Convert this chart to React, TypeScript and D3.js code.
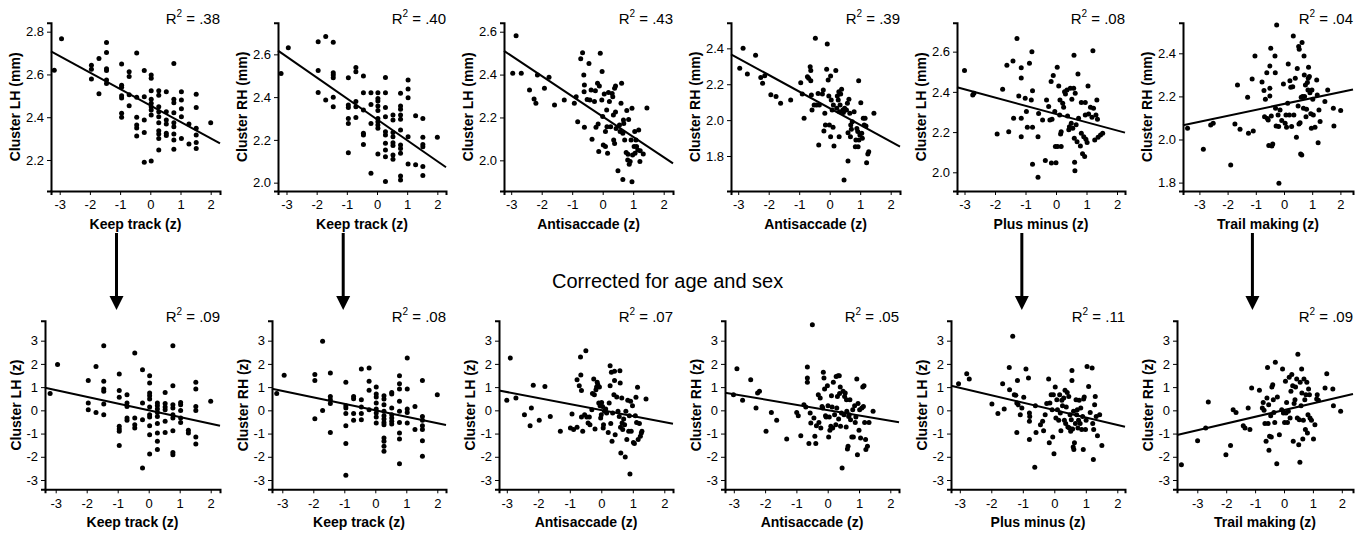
import React, { useRef, useEffect } from 'react';
import { select, scaleLinear, axisBottom, axisLeft, format } from 'd3';

// ---- data (x = task z-score, y = cluster value) ----

const keepTrackLH = [
  [-3.18,2.62],[-2.94,2.767],[-1.95,2.643],[-1.95,2.624],[-1.95,2.579],[-1.7,2.675],[-1.7,2.51],
  [-1.45,2.749],[-1.45,2.703],[-1.45,2.627],[-1.45,2.618],[-1.45,2.574],[-1.45,2.558],
  [-0.95,2.649],[-0.95,2.549],[-0.95,2.54],[-0.95,2.5],[-0.95,2.49],[-0.95,2.418],[-0.95,2.4],
  [-0.7,2.613],[-0.7,2.59],[-0.7,2.505],[-0.7,2.454],
  [-0.45,2.7],[-0.45,2.493],[-0.45,2.4],[-0.45,2.364],[-0.45,2.35],[-0.45,2.312],
  [-0.2,2.618],[-0.2,2.496],[-0.2,2.387],[-0.2,2.328],[-0.2,2.189],
  [0.03,2.597],[0.03,2.582],[0.03,2.524],[0.03,2.484],[0.03,2.465],[0.03,2.449],[0.03,2.434],[0.03,2.41],[0.03,2.195],
  [0.28,2.524],[0.28,2.503],[0.28,2.449],[0.28,2.426],[0.28,2.402],[0.28,2.374],[0.28,2.337],[0.28,2.321],[0.28,2.301],[0.28,2.247],
  [0.53,2.519],[0.53,2.426],[0.53,2.387],[0.53,2.368],[0.53,2.325],[0.53,2.315],
  [0.78,2.651],[0.78,2.484],[0.78,2.468],[0.78,2.421],[0.78,2.374],[0.78,2.356],[0.78,2.321],[0.78,2.293],[0.78,2.25],
  [1.03,2.519],[1.03,2.48],[1.03,2.44],[1.03,2.402],[1.03,2.3],
  [1.28,2.368],[1.28,2.275],
  [1.52,2.507],[1.52,2.446],[1.52,2.348],[1.52,2.317],[1.52,2.282],[1.52,2.254],
  [2.0,2.374]
];

const keepTrackRH = [
  [-3.18,2.511],[-2.94,2.631],[-1.95,2.659],[-1.95,2.524],[-1.95,2.422],[-1.7,2.683],[-1.7,2.386],
  [-1.45,2.656],[-1.45,2.514],[-1.45,2.503],[-1.45,2.491],[-1.45,2.399],[-1.45,2.355],
  [-0.95,2.491],[-0.95,2.363],[-0.95,2.352],[-0.95,2.3],[-0.95,2.277],[-0.95,2.14],
  [-0.7,2.538],[-0.7,2.519],[-0.7,2.379],[-0.7,2.355],[-0.7,2.305],
  [-0.45,2.499],[-0.45,2.421],[-0.45,2.34],[-0.45,2.231],[-0.45,2.223],[-0.45,2.179],
  [-0.2,2.421],[-0.2,2.366],[-0.2,2.277],[-0.2,2.044],
  [0.03,2.421],[0.03,2.394],[0.03,2.382],[0.03,2.358],[0.03,2.337],[0.03,2.3],[0.03,2.285],[0.03,2.27],[0.03,2.254],[0.03,2.134],
  [0.28,2.492],[0.28,2.421],[0.28,2.352],[0.28,2.308],[0.28,2.238],[0.28,2.223],[0.28,2.184],[0.28,2.153],[0.28,2.121],[0.28,2.005],
  [0.53,2.316],[0.53,2.293],[0.53,2.234],[0.53,2.215],[0.53,2.187],[0.53,2.174],[0.53,2.129],[0.53,2.109],
  [0.78,2.418],[0.78,2.358],[0.78,2.343],[0.78,2.316],[0.78,2.296],[0.78,2.246],[0.78,2.176],[0.78,2.16],[0.78,2.137],[0.78,2.031],[0.78,2.012],
  [1.03,2.48],[1.03,2.438],[1.03,2.397],[1.03,2.215],[1.03,2.087],
  [1.28,2.313],[1.28,2.084],
  [1.52,2.3],[1.52,2.212],[1.52,2.179],[1.52,2.168],[1.52,2.075],[1.52,2.033],
  [2.0,2.212]
];

const antisaccadeLH = [
  [-2.84,2.581],[-2.95,2.406],[-2.67,2.406],[-2.4,2.328],[-2.25,2.286],[-2.19,2.266],[-2.14,2.398],[-1.91,2.336],
  [-1.76,2.387],[-1.58,2.258],[-1.26,2.281],[-0.93,2.266],[-0.87,2.297],[-0.82,2.18],[-0.72,2.474],[-0.66,2.502],
  [-0.62,2.398],[-0.6,2.351],[-0.61,2.32],[-0.6,2.154],[-0.51,2.284],[-0.45,2.452],[-0.42,2.281],[-0.38,2.328],
  [-0.35,2.098],[-0.27,2.274],[-0.24,2.325],[-0.22,2.154],[-0.17,2.359],[-0.15,2.17],[-0.13,2.041],[-0.11,2.347],
  [-0.08,2.499],[-0.03,2.281],[-0.02,2.414],[0.0,2.204],[0.05,2.309],[0.02,2.072],[0.09,2.064],[0.09,2.134],
  [0.13,2.235],[0.14,2.157],[0.16,2.033],[0.19,2.316],[0.22,2.274],[0.26,2.157],[0.31,2.312],[0.33,2.297],
  [0.35,2.212],[0.36,2.095],[0.39,2.079],[0.39,2.336],[0.42,2.347],[0.42,2.226],[0.44,2.149],[0.5,1.952],
  [0.55,2.165],[0.57,2.134],[0.6,2.266],[0.62,2.359],[0.66,1.911],[0.66,2.126],[0.68,2.188],[0.69,2.172],
  [0.72,2.095],[0.77,2.036],[0.79,2.232],[0.82,2.002],[0.83,2.028],[0.85,2.191],[0.87,1.982],[0.9,1.995],
  [0.93,2.095],[0.96,2.243],[0.96,1.9],[0.98,2.025],[1.03,2.064],[1.05,2.134],[1.06,2.033],[1.09,2.095],
  [1.11,2.064],[1.15,2.048],[1.18,2.141],[1.22,1.995],[1.23,2.045],[1.33,2.03],[1.45,2.244]
];

const antisaccadeRH = [
  [-2.84,2.4],[-2.95,2.289],[-2.7,2.257],[-2.43,2.361],[-2.26,2.237],[-2.2,2.205],[-2.13,2.248],[-1.93,2.141],
  [-1.76,2.131],[-1.61,2.094],[-1.28,2.112],[-0.95,2.209],[-0.9,2.146],[-0.84,2.01],[-0.73,2.242],[-0.69,2.233],
  [-0.64,2.298],[-0.62,2.276],[-0.62,2.22],[-0.6,2.14],[-0.58,2.056],[-0.51,2.084],[-0.47,2.456],[-0.43,2.084],
  [-0.38,2.149],[-0.36,1.861],[-0.34,2.084],[-0.24,2.146],[-0.21,2.168],[-0.19,1.939],[-0.16,2.038],[-0.14,1.973],
  [-0.1,2.283],[-0.08,2.424],[-0.05,2.224],[-0.03,2.135],[-0.01,1.973],[0.03,1.908],[0.03,2.246],[0.05,2.112],
  [0.08,2.056],[0.11,1.96],[0.12,2.084],[0.14,1.856],[0.2,2.276],[0.23,2.066],[0.25,2.135],[0.28,2.112],
  [0.3,2.158],[0.31,1.908],[0.32,2.047],[0.34,2.084],[0.36,2.146],[0.39,2.172],[0.43,2.056],[0.45,2.042],
  [0.47,1.666],[0.49,2.066],[0.55,2.056],[0.58,2.094],[0.6,1.93],[0.6,1.772],[0.63,2.116],[0.66,2.038],
  [0.68,1.908],[0.69,1.973],[0.71,1.949],[0.74,1.991],[0.8,2.047],[0.84,1.852],[0.86,1.889],[0.89,1.954],
  [0.92,1.936],[0.93,1.852],[0.95,2.22],[0.96,1.889],[0.99,1.917],[1.02,2.097],[1.05,1.927],[1.07,1.899],
  [1.1,2.01],[1.13,1.973],[1.16,2.01],[1.19,1.967],[1.21,1.763],[1.25,1.811],[1.28,1.824],[1.45,2.038]
];

const plusMinusLH = [
  [-3.0,2.506],[-2.73,2.385],[-2.69,2.393],[-1.93,2.191],[-1.75,2.413],[-1.61,2.532],[-1.55,2.202],[-1.41,2.554],
  [-1.39,2.269],[-1.28,2.666],[-1.22,2.38],[-1.14,2.469],[-1.14,2.52],[-1.14,2.269],[-1.14,2.177],[-1.01,2.368],
  [-0.97,2.302],[-0.94,2.224],[-0.87,2.542],[-0.81,2.36],[-0.77,2.406],[-0.79,2.6],[-0.77,2.224],[-0.77,2.04],
  [-0.59,2.177],[-0.59,1.975],[-0.57,2.293],[-0.44,2.26],[-0.35,2.059],[-0.31,2.36],[-0.24,2.327],[-0.2,2.26],
  [-0.16,2.451],[-0.15,2.046],[-0.13,2.264],[-0.09,2.482],[-0.04,2.302],[-0.02,2.128],[0.0,2.048],[0.04,2.522],
  [0.05,2.128],[0.09,2.429],[0.12,2.285],[0.13,2.36],[0.15,2.191],[0.17,2.128],[0.17,2.202],[0.22,2.343],
  [0.25,2.323],[0.28,2.401],[0.31,2.389],[0.36,2.409],[0.38,2.28],[0.42,2.211],[0.44,2.227],[0.47,2.418],
  [0.5,2.244],[0.52,2.363],[0.55,2.219],[0.58,2.418],[0.59,2.582],[0.6,2.169],[0.61,2.05],[0.62,2.008],
  [0.63,2.393],[0.66,2.236],[0.69,2.152],[0.72,2.489],[0.74,2.269],[0.8,2.131],[0.83,2.347],[0.83,2.194],
  [0.87,2.092],[0.91,2.177],[0.94,2.079],[0.96,2.347],[0.96,2.285],[0.98,2.164],[1.02,2.148],[1.05,2.429],
  [1.07,2.29],[1.13,2.323],[1.18,2.274],[1.21,2.605],[1.23,2.318],[1.27,2.161],[1.31,2.285],[1.34,2.36],
  [1.36,2.264],[1.38,2.174],[1.46,2.186],[1.53,2.194]
];

const trailMakingRH = [
  [-3.42,2.052],[-2.86,1.955],[-2.6,2.067],[-2.51,2.075],[-1.89,1.882],[-1.74,2.072],[-1.65,2.253],[-1.56,2.047],
  [-1.29,2.196],[-1.26,2.029],[-1.13,2.281],[-1.09,2.04],[-1.03,2.388],[-0.78,2.267],[-0.71,2.227],[-0.69,2.106],
  [-0.66,2.187],[-0.61,2.31],[-0.59,2.098],[-0.56,2.091],[-0.54,1.972],[-0.5,2.341],[-0.5,2.238],[-0.5,2.202],
  [-0.47,2.423],[-0.45,2.109],[-0.43,1.97],[-0.4,1.979],[-0.32,2.388],[-0.31,2.31],[-0.3,2.145],[-0.28,2.063],
  [-0.26,2.531],[-0.21,2.114],[-0.19,2.06],[-0.18,1.797],[-0.14,2.137],[-0.08,2.088],[-0.02,2.258],[0.04,2.075],
  [0.07,2.114],[0.09,2.057],[0.13,2.168],[0.15,2.35],[0.19,2.114],[0.21,2.273],[0.24,2.242],[0.27,2.06],
  [0.31,2.245],[0.33,2.48],[0.35,2.114],[0.4,2.284],[0.44,2.01],[0.47,2.33],[0.5,2.156],[0.52,2.431],
  [0.53,2.072],[0.54,2.419],[0.57,2.078],[0.59,1.933],[0.61,2.196],[0.63,1.928],[0.64,2.45],[0.66,2.199],
  [0.69,2.145],[0.71,2.388],[0.72,2.299],[0.73,2.199],[0.76,2.253],[0.78,2.106],[0.8,2.14],[0.83,2.264],
  [0.85,2.23],[0.86,2.284],[0.87,2.335],[0.9,2.292],[0.92,2.217],[0.95,2.119],[0.97,2.052],[0.99,2.23],
  [1.02,2.187],[1.04,2.114],[1.1,2.057],[1.16,2.276],[1.18,2.207],[1.21,1.985],[1.24,2.137],[1.28,2.083],
  [1.45,2.176],[1.55,2.23],[1.75,2.145],[1.77,2.063],[2.01,2.134]
];

const keepTrackLHz = [
  [-3.18,0.72],[-2.94,1.97],[-1.95,1.28],[-1.95,0.32],[-1.95,0.03],[-1.7,1.89],[-1.7,-0.09],
  [-1.45,2.78],[-1.45,1.25],[-1.45,0.92],[-1.45,0.82],[-1.45,0.27],[-1.45,-0.19],
  [-0.95,1.56],[-0.95,0.85],[-0.95,0.56],[-0.95,-0.69],[-0.95,-0.8],[-0.95,-0.9],[-0.95,-1.51],
  [-0.7,0.67],[-0.7,0.32],[-0.7,0.17],[-0.7,-0.33],[-0.7,-0.43],
  [-0.45,2.47],[-0.45,-0.33],[-0.45,-0.62],[-0.45,-0.76],
  [-0.2,1.75],[-0.2,0.32],[-0.2,-0.4],[-0.2,-2.48],
  [0.03,1.49],[0.03,1.18],[0.03,0.75],[0.03,0.63],[0.03,0.49],[0.03,0.14],[0.03,-0.19],[0.03,-0.29],[0.03,-0.66],[0.03,-1.05],[0.03,-1.88],
  [0.28,0.32],[0.28,0.2],[0.28,0.06],[0.28,-0.09],[0.28,-0.26],[0.28,-0.57],[0.28,-0.98],[0.28,-1.33],[0.28,-1.69],
  [0.53,0.77],[0.53,0.29],[0.53,0.14],[0.53,0.03],[0.53,-0.47],[0.53,-0.95],
  [0.78,2.78],[0.78,1.06],[0.78,0.24],[0.78,0.1],[0.78,-0.19],[0.78,-0.33],[0.78,-0.88],[0.78,-1.81],[0.78,-1.91],
  [1.03,0.34],[1.03,0.24],[1.03,-0.01],[1.03,-0.33],[1.03,-0.52],
  [1.28,-0.86],[1.28,-0.98],
  [1.52,1.21],[1.52,0.92],[1.52,0.17],[1.52,-0.01],[1.52,-1.15],[1.52,-1.45],
  [2.0,0.39]
];

const keepTrackRHz = [
  [-3.18,0.72],[-2.94,1.51],[-1.95,1.54],[-1.95,1.28],[-1.95,-0.36],[-1.7,2.97],[-1.7,-0.01],
  [-1.45,1.61],[-1.45,0.6],[-1.45,0.46],[-1.45,0.29],[-1.45,-0.95],
  [-0.95,1.21],[-0.95,0.2],[-0.95,0.1],[-0.95,-0.14],[-0.95,-0.66],[-0.95,-1.43],[-0.95,-2.8],
  [-0.7,0.6],[-0.7,0.5],[-0.7,-0.14],[-0.7,-0.43],
  [-0.45,1.78],[-0.45,0.46],[-0.45,0.14],[-0.45,-0.14],[-0.45,-0.4],
  [-0.2,1.82],[-0.2,1.25],[-0.2,0.86],[-0.2,0.03],
  [0.03,1.0],[0.03,0.7],[0.03,0.57],[0.03,0.32],[0.03,0.06],[0.03,-0.11],[0.03,-0.29],[0.03,-0.55],
  [0.28,0.63],[0.28,0.49],[0.28,0.24],[0.28,-0.04],[0.28,-0.23],[0.28,-0.37],[0.28,-0.52],[0.28,-0.62],[0.28,-1.19],[0.28,-1.33],[0.28,-1.55],[0.28,-1.76],
  [0.53,0.77],[0.53,0.7],[0.53,0.1],[0.53,-0.19],[0.53,-0.33],[0.53,-0.47],[0.53,-0.59],
  [0.78,1.49],[0.78,1.15],[0.78,0.92],[0.78,0.39],[0.78,-0.04],[0.78,-0.52],[0.78,-0.98],[0.78,-1.23],[0.78,-2.3],
  [1.03,2.25],[1.03,0.92],[1.03,0.06],[1.03,-0.09],[1.03,-0.55],
  [1.28,0.17],[1.28,-0.83],
  [1.52,1.28],[1.52,-0.26],[1.52,-0.43],[1.52,-0.66],[1.52,-0.83],[1.52,-1.31],[1.52,-1.98],
  [2.0,0.67]
];

const antisaccadeLHz = [
  [-3.0,0.43],[-2.89,2.25],[-2.71,0.53],[-2.44,-0.19],[-2.26,-0.66],[-2.22,0.1],[-2.16,1.08],[-1.97,-0.43],
  [-1.79,1.03],[-1.62,-0.26],[-1.3,-0.9],[-0.98,-0.76],[-0.93,-0.16],[-0.88,-0.83],[-0.77,1.32],[-0.77,-0.73],
  [-0.7,1.06],[-0.66,2.3],[-0.65,1.52],[-0.63,0.85],[-0.63,-0.29],[-0.59,-0.9],[-0.53,-0.19],[-0.49,2.57],
  [-0.46,-0.29],[-0.42,-0.55],[-0.38,-0.29],[-0.36,-0.62],[-0.3,0.03],[-0.28,0.72],[-0.24,1.35],[-0.22,0.67],
  [-0.2,-0.8],[-0.17,0.89],[-0.15,1.0],[-0.13,1.21],[-0.11,1.1],[-0.08,0.32],[-0.06,1.0],[-0.04,0.2],
  [-0.02,-0.33],[0.0,-0.19],[0.01,0.34],[0.04,0.17],[0.06,-0.76],[0.07,-0.62],[0.1,-0.04],[0.14,0.06],
  [0.17,-0.11],[0.22,-0.95],[0.25,0.32],[0.28,1.92],[0.28,1.06],[0.3,-0.57],[0.32,1.64],[0.34,-1.33],
  [0.36,-0.11],[0.4,0.67],[0.42,1.68],[0.42,1.29],[0.44,-1.05],[0.49,0.57],[0.53,-0.04],[0.57,-0.26],
  [0.59,1.71],[0.6,1.18],[0.61,-0.73],[0.62,-1.84],[0.65,0.53],[0.66,-0.55],[0.68,-0.83],[0.71,-0.37],
  [0.74,-0.62],[0.76,-2.01],[0.78,-0.04],[0.81,-1.26],[0.84,0.43],[0.87,-0.9],[0.89,-0.23],[0.91,-2.74],
  [0.93,0.39],[0.95,-0.9],[0.99,0.2],[1.02,-1.38],[1.05,-1.43],[1.08,-0.23],[1.1,0.56],[1.12,-0.52],
  [1.15,0.99],[1.17,-1.26],[1.21,-0.57],[1.24,-1.12],[1.27,-0.98],[1.29,-0.9],[1.42,0.49]
];

const antisaccadeRHz = [
  [-3.01,0.67],[-2.9,1.79],[-2.72,0.43],[-2.46,1.32],[-2.29,0.1],[-2.24,0.75],[-2.18,0.82],[-1.97,-0.9],
  [-1.8,-0.09],[-1.63,-0.43],[-1.31,-1.23],[-0.99,-0.09],[-0.94,-0.23],[-0.86,-1.09],[-0.76,0.24],[-0.7,0.14],
  [-0.65,1.87],[-0.65,1.39],[-0.65,1.21],[-0.6,-1.43],[-0.56,-0.11],[-0.54,-0.55],[-0.49,3.69],[-0.44,-0.33],
  [-0.41,-1.12],[-0.38,-1.43],[-0.36,-0.66],[-0.3,0.67],[-0.28,-0.52],[-0.24,0.53],[-0.22,-0.76],[-0.18,0.17],
  [-0.16,0.1],[-0.14,1.64],[-0.12,1.39],[-0.1,0.92],[-0.07,-0.23],[-0.05,-0.29],[-0.01,1.06],[0.01,0.2],
  [0.03,-1.15],[0.05,-0.29],[0.07,-0.86],[0.1,-0.69],[0.12,0.63],[0.14,0.14],[0.16,-0.76],[0.18,1.21],
  [0.22,-0.19],[0.26,-0.62],[0.27,1.46],[0.29,0.1],[0.31,0.6],[0.33,1.49],[0.35,-0.37],[0.37,1.49],
  [0.38,0.72],[0.4,1.0],[0.41,-0.69],[0.44,-0.11],[0.46,-2.48],[0.49,0.82],[0.52,-0.19],[0.54,0.6],
  [0.56,0.75],[0.59,-0.72],[0.6,0.46],[0.61,-0.04],[0.63,-1.66],[0.65,-1.55],[0.67,-0.26],[0.69,-0.19],
  [0.71,0.46],[0.73,-0.4],[0.77,-1.15],[0.8,0.03],[0.82,-1.15],[0.86,0.2],[0.88,-0.52],[0.9,-0.29],
  [0.93,1.35],[0.95,-1.91],[0.97,0.29],[1.0,-0.86],[1.02,0.03],[1.05,-1.19],[1.09,0.1],[1.12,1.0],
  [1.14,0.17],[1.16,1.06],[1.18,-0.52],[1.21,-1.26],[1.22,-1.69],[1.27,-1.55],[1.32,-0.52],[1.45,-0.04]
];

const plusMinusLHz = [
  [-3.04,1.15],[-2.78,1.58],[-2.7,1.35],[-1.98,0.27],[-1.79,-0.14],[-1.64,1.15],[-1.59,0.06],[-1.43,1.85],
  [-1.42,0.89],[-1.32,3.19],[-1.27,0.67],[-1.22,0.65],[-1.19,0.32],[-1.19,-0.95],[-1.17,1.29],[-1.15,0.24],
  [-1.08,-0.19],[-1.03,0.1],[-0.97,0.56],[-0.9,1.78],[-0.82,1.39],[-0.79,-0.11],[-0.78,-0.26],[-0.79,-0.47],
  [-0.79,-1.26],[-0.62,-2.45],[-0.6,0.2],[-0.58,-0.95],[-0.44,-0.62],[-0.37,-0.47],[-0.34,-0.88],[-0.29,-0.19],
  [-0.24,0.29],[-0.18,1.35],[-0.16,-1.4],[-0.14,0.32],[-0.1,0.67],[-0.07,0.03],[-0.05,-1.15],[-0.03,0.67],
  [-0.01,-1.87],[0.03,1.0],[0.05,-0.33],[0.08,0.46],[0.1,0.03],[0.14,-0.43],[0.17,0.67],[0.19,-0.11],
  [0.21,-0.88],[0.24,0.43],[0.26,0.2],[0.3,0.53],[0.32,-0.43],[0.34,0.86],[0.36,-0.57],[0.38,0.14],
  [0.41,0.77],[0.43,-0.72],[0.46,0.6],[0.48,-0.76],[0.5,-0.19],[0.52,-0.9],[0.54,-0.4],[0.56,1.29],
  [0.56,1.72],[0.58,-0.8],[0.6,-1.58],[0.61,-0.04],[0.62,-1.69],[0.64,-1.4],[0.67,-0.57],[0.69,0.46],
  [0.71,-0.19],[0.73,0.03],[0.75,-0.76],[0.77,-0.43],[0.79,0.43],[0.82,-0.57],[0.84,0.1],[0.87,-0.83],
  [0.9,-0.26],[0.92,-1.69],[0.93,0.49],[0.95,0.57],[0.99,-0.83],[1.01,-0.43],[1.04,1.89],[1.09,1.03],
  [1.14,-0.09],[1.2,1.82],[1.22,-0.57],[1.24,-2.12],[1.25,-0.83],[1.28,0.24],[1.3,0.6],[1.33,-0.26],
  [1.37,-1.09],[1.44,-0.19],[1.51,-1.51]
];

const trailMakingRHz = [
  [-3.55,-2.34],[-2.99,-1.31],[-2.71,-0.76],[-2.62,0.36],[-2.01,-1.91],[-1.85,-1.51],[-1.76,0.03],[-1.66,-0.09],
  [-1.41,-0.66],[-1.35,-0.76],[-1.24,0.1],[-1.18,-0.83],[-1.12,0.96],[-0.85,0.86],[-0.75,0.1],[-0.72,0.34],
  [-0.69,0.0],[-0.66,-0.57],[-0.62,-1.33],[-0.59,0.53],[-0.57,1.85],[-0.55,-0.57],[-0.53,0.24],[-0.52,-1.72],
  [-0.5,-1.12],[-0.46,-0.23],[-0.44,-1.15],[-0.42,1.0],[-0.39,1.1],[-0.37,0.46],[-0.35,-0.09],[-0.32,-0.52],
  [-0.3,2.07],[-0.25,-2.3],[-0.23,0.57],[-0.16,-1.05],[-0.08,0.03],[-0.05,1.78],[-0.02,-0.11],[0.02,-0.52],
  [0.05,1.25],[0.07,-0.11],[0.09,0.34],[0.12,-0.52],[0.15,-0.04],[0.18,1.43],[0.21,-0.33],[0.24,0.82],
  [0.27,1.54],[0.3,1.06],[0.32,-1.33],[0.35,0.29],[0.38,0.46],[0.4,1.0],[0.44,1.35],[0.46,-0.33],
  [0.48,2.42],[0.51,-1.48],[0.53,-0.4],[0.55,-2.24],[0.56,1.21],[0.59,0.2],[0.61,1.78],[0.62,0.75],
  [0.65,-1.23],[0.67,-0.43],[0.69,1.35],[0.72,0.46],[0.74,-0.83],[0.76,0.67],[0.79,1.21],[0.81,-0.98],
  [0.83,-0.19],[0.85,0.92],[0.88,0.67],[0.9,-0.33],[0.95,-0.43],[1.02,-1.23],[1.07,-0.62],[1.13,0.49],
  [1.15,0.67],[1.19,0.43],[1.42,0.96],[1.48,1.58],[1.69,0.92],[1.71,0.2],[1.96,-0.04]
];

// panel labels, fitted lines, axis ticks
const xLabels = ['Keep track (z)', 'Keep track (z)', 'Antisaccade (z)', 'Antisaccade (z)', 'Plus minus (z)', 'Trail making (z)'];
const yLabelsTop = ['Cluster LH (mm)', 'Cluster RH (mm)', 'Cluster LH (mm)', 'Cluster RH (mm)', 'Cluster LH (mm)', 'Cluster RH (mm)'];
const yLabelsBottom = ['Cluster LH (z)', 'Cluster RH (z)', 'Cluster LH (z)', 'Cluster RH (z)', 'Cluster LH (z)', 'Cluster RH (z)'];
const r2Top = ['.38', '.40', '.43', '.39', '.08', '.04'];
const r2Bottom = ['.09', '.08', '.07', '.05', '.11', '.09'];
const fitInterceptTop = [2.455, 2.296, 2.204, 2.066, 2.29, 2.165];
const fitSlopeTop = [-0.0768, -0.098, -0.0948, -0.093, -0.0409, 0.0275];
const fitInterceptBottom = [0, 0.005, 0.01, 0.01, 0.01, 0.01];
const fitSlopeBottom = [-0.29, -0.277, -0.26, -0.228, -0.32, 0.289];
const yTicksTop = [[2.2, 2.4, 2.6, 2.8], [2.0, 2.2, 2.4, 2.6], [2.0, 2.2, 2.4, 2.6], [1.8, 2.0, 2.2, 2.4], [2.0, 2.2, 2.4, 2.6], [1.8, 2.0, 2.2, 2.4]];
const yDomainTop = [[2.055, 2.842], [1.961, 2.748], [1.857, 2.642], [1.605, 2.543], [1.907, 2.744], [1.761, 2.542]];
const yTicksBottom = [-3, -2, -1, 0, 1, 2, 3];
const yDomainBottom = [-3.4, 3.86];
const xTicks = [-3, -2, -1, 0, 1, 2];
const arrowColumns = [0, 1, 4, 5];
const title = 'Corrected for age and sex';

const topData = [keepTrackLH, keepTrackRH, antisaccadeLH, antisaccadeRH, plusMinusLH, trailMakingRH];
const bottomData = [keepTrackLHz, keepTrackRHz, antisaccadeLHz, antisaccadeRHz, plusMinusLHz, trailMakingRHz];

// layout: [left, right, pixel of x = 0, px per unit]
const topCols = [[51, 220, 150.3, 30.2], [278, 446, 377, 30.17], [504, 673, 602.7, 30.5], [731, 900, 829.7, 30.5], [957, 1125, 1056, 30.5], [1183, 1353, 1284, 28.2]];
const bottomCols = [[45, 220, 148.7, 31], [272, 446, 375.3, 31], [499, 673, 601.3, 31.5], [725, 899, 827.7, 31.3], [951, 1125, 1054.3, 31.5], [1177, 1353, 1284, 28.9]];
const FONT = 'Liberation Sans, Arial, Helvetica, sans-serif';

const drawPanel = (svg, cfg) => {
  const { data, col, yDomain, yTicks, yFmt, top, bottom, xLabel, yLabel, r2, b0, b1, xLabelY, yLabelOff } = cfg;
  const [left, right, zero, unit] = col;
  const x = scaleLinear().domain([(left - zero) / unit, (right - zero) / unit]).range([left, right]);
  const y = scaleLinear().domain(yDomain).range([bottom, top]);
  const g = svg.append('g');

  const xa = g.append('g').attr('transform', `translate(0,${bottom})`)
    .call(axisBottom(x).tickValues(xTicks).tickFormat(d => String(d)).tickSizeOuter(0).tickSize(4).tickPadding(5));
  const ya = g.append('g').attr('transform', `translate(${left},0)`)
    .call(axisLeft(y).tickValues(yTicks).tickFormat(yFmt).tickSizeOuter(0).tickSize(4).tickPadding(3));
  [xa, ya].forEach(a => {
    a.select('.domain').attr('stroke', '#000').attr('stroke-width', 2);
    a.selectAll('.tick line').attr('stroke', '#000').attr('stroke-width', 1);
    a.selectAll('.tick text').attr('font-family', FONT).attr('font-size', 13).attr('fill', '#000');
  });

  g.append('g').selectAll('circle').data(data).join('circle')
    .attr('cx', d => x(d[0])).attr('cy', d => y(d[1])).attr('r', 2.5).attr('fill', '#000');

  const [x0, x1] = x.domain();
  g.append('line')
    .attr('x1', x(x0)).attr('y1', y(b0 + b1 * x0))
    .attr('x2', x(x1)).attr('y2', y(b0 + b1 * x1))
    .attr('stroke', '#000').attr('stroke-width', 2);

  g.append('text').attr('x', (left + right) / 2).attr('y', xLabelY)
    .attr('text-anchor', 'middle').attr('font-family', FONT).attr('font-size', 14).attr('font-weight', 'bold')
    .text(xLabel);

  g.append('text')
    .attr('transform', `translate(${left - yLabelOff + 5},${(top + bottom) / 2}) rotate(-90)`)
    .attr('text-anchor', 'middle').attr('font-family', FONT).attr('font-size', 14).attr('font-weight', 'bold')
    .text(yLabel);

  const t = g.append('text').attr('x', right).attr('y', top + 1.5)
    .attr('text-anchor', 'end').attr('font-family', FONT).attr('font-size', 15).attr('fill', '#000');
  t.append('tspan').text('R');
  t.append('tspan').attr('font-size', 10).attr('dy', -7).text('2');
  t.append('tspan').attr('dy', 7).text(` = ${r2}`);
};

const App = () => {
  const svgRef = useRef(null);

  useEffect(() => {
    const svg = select(svgRef.current);
    svg.selectAll('*').remove();

    topData.forEach((data, i) => drawPanel(svg, {
      data, col: topCols[i], yDomain: yDomainTop[i], yTicks: yTicksTop[i], yFmt: format('.1f'),
      top: 22.7, bottom: 191, xLabel: xLabels[i], yLabel: yLabelsTop[i], r2: r2Top[i],
      b0: fitInterceptTop[i], b1: fitSlopeTop[i], xLabelY: 229, yLabelOff: 36
    }));

    bottomData.forEach((data, i) => drawPanel(svg, {
      data, col: bottomCols[i], yDomain: yDomainBottom, yTicks: yTicksBottom, yFmt: d => String(d),
      top: 320.7, bottom: 489.3, xLabel: xLabels[i], yLabel: yLabelsBottom[i], r2: r2Bottom[i],
      b0: fitInterceptBottom[i], b1: fitSlopeBottom[i], xLabelY: 527, yLabelOff: 29
    }));

    // arrows from the raw plots down to the corrected ones
    arrowColumns.forEach(i => {
      const [, , zero, unit] = topCols[i];
      const ax = scaleLinear().domain([0, 1]).range([zero, zero + unit])(-1.12);
      svg.append('line').attr('x1', ax).attr('x2', ax).attr('y1', 233).attr('y2', 298)
        .attr('stroke', '#000').attr('stroke-width', 3);
      svg.append('path').attr('d', `M${ax - 7},${296} L${ax + 7},${296} L${ax},${310} Z`).attr('fill', '#000');
    });

    svg.append('text').attr('x', 552).attr('y', 288).attr('text-anchor', 'start')
      .attr('font-family', FONT).attr('font-size', 20).text(title);
  }, []);

  return (
    <svg ref={svgRef} width={1367} height={536}
      style={{ position: 'absolute', left: 0, top: 0, background: '#fff' }} />
  );
};

export default App;
